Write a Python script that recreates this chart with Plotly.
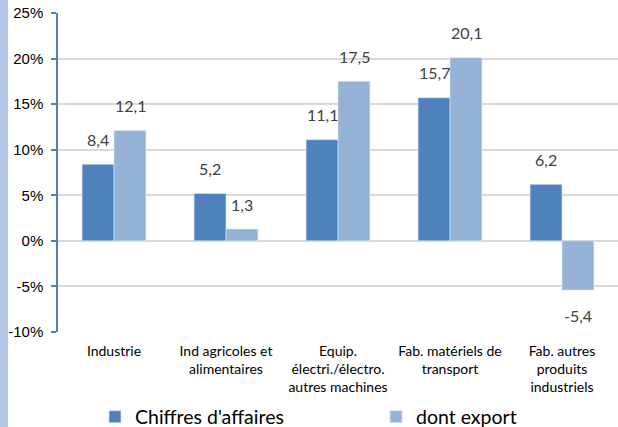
import plotly.graph_objects as go

categories = ["Industrie", "Ind agricoles et<br>alimentaires",
              "Equip.<br>électri./électro.<br>autres machines",
              "Fab. matériels de<br>transport",
              "Fab. autres<br>produits<br>industriels"]
chiffres = [8.4, 5.2, 11.1, 15.7, 6.2]
export = [12.1, 1.3, 17.5, 20.1, -5.4]
ytick_vals = [-10, -5, 0, 5, 10, 15, 20, 25]
ytick_text = [f"{v}%" for v in ytick_vals]

C1 = "#4f81bd"
C2 = "#95b3d7"

fig = go.Figure()
fig.add_trace(go.Bar(x=categories, y=chiffres, name="Chiffres d'affaires",
                     marker=dict(color=C1, line=dict(color="#dce6f1", width=0.6)),
                     legend="legend"))
fig.add_trace(go.Bar(x=categories, y=export, name="dont export",
                     marker=dict(color=C2, line=dict(color="#dce6f1", width=0.6)),
                     legend="legend2"))

def fmt(v):
    return f"{v:.1f}".replace(".", ",")

for series, shift in ((chiffres, -16), (export, 16)):
    for cat, v in zip(categories, series):
        fig.add_annotation(x=cat, y=v, xref="x", yref="y", text=fmt(v),
                           showarrow=False, xshift=shift,
                           yshift=25 if v >= 0 else -25,
                           font=dict(family="Lato", size=16, color="#404040"))

legend_common = dict(orientation="h", xref="container", yref="container",
                     xanchor="left", yanchor="middle", y=10/427,
                     font=dict(family="Lato", size=19.5, color="#000000"),
                     itemclick=False, bgcolor="rgba(0,0,0,0)")

fig.update_layout(
    width=618, height=427,
    margin=dict(l=58, r=0, t=13, b=95, autoexpand=False),
    paper_bgcolor="white", plot_bgcolor="white",
    barmode="group", bargap=0.43, bargroupgap=0,
    font=dict(family="Lato", color="#000000"),
    showlegend=True,
    legend=dict(legend_common, x=95/618),
    legend2=dict(legend_common, x=376/618),
    xaxis=dict(showgrid=False, showline=False, ticks="", automargin=False,
               tickfont=dict(family="Lato", size=14, color="#000000"),
               ticklabelstandoff=9),
    yaxis=dict(range=[-10, 25], tickvals=ytick_vals, ticktext=ytick_text,
               automargin=False,
               showgrid=True, gridcolor="#d9d9d9", gridwidth=1.5,
               zeroline=True, zerolinecolor="#d9d9d9", zerolinewidth=1.5,
               showline=True, linecolor="#4f81bd", linewidth=1.5,
               ticks="outside", ticklen=5, tickcolor="#4f81bd", tickwidth=1.5,
               tickfont=dict(family="Liberation Sans", size=15, color="#000000"),
               ticklabelstandoff=5),
)

# left decorative strip (in paper coords, extending into the margin)
fig.add_shape(type="rect", xref="paper", yref="paper",
              x0=-58/560, x1=-50/560, y0=-1, y1=2,
              fillcolor="#b4c7e7", line=dict(width=0), layer="below")

fig.write_html("out.html", config={"displayModeBar": False},
               post_script="document.body.style.margin='0';document.body.style.overflow='hidden';")
